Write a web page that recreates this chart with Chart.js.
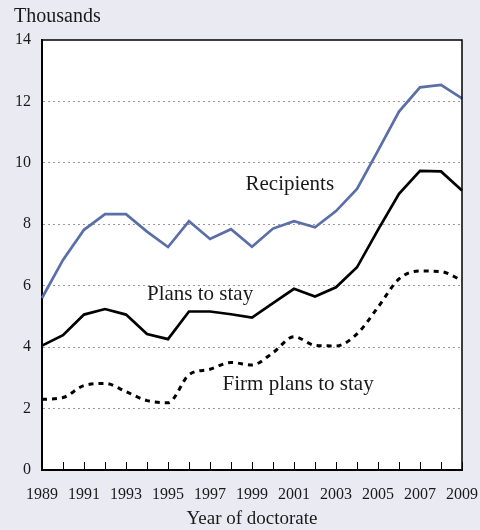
<!DOCTYPE html>
<html>
<head>
<meta charset="utf-8">
<script src="https://cdn.jsdelivr.net/npm/chart.js@4.4.0/dist/chart.umd.min.js"></script>
<style>
  html, body { margin: 0; padding: 0; background: #eaeaf3; }
  #wrap { width: 480px; height: 530px; }
</style>
</head>
<body>
<div id="wrap"><canvas id="myChart" width="480" height="530"></canvas></div>
<script>
const years = ["1989","1990","1991","1992","1993","1994","1995","1996","1997","1998","1999",
  "2000","2001","2002","2003","2004","2005","2006","2007","2008","2009"];
const recipients = [5.6, 6.84, 7.82, 8.33, 8.33, 7.76, 7.26, 8.1, 7.52, 7.84, 7.27,
  7.86, 8.1, 7.9, 8.43, 9.15, 10.4, 11.67, 12.46, 12.54, 12.1];
const plansToStay = [4.05, 4.39, 5.06, 5.24, 5.06, 4.43, 4.26, 5.16, 5.16, 5.07, 4.96,
  5.43, 5.9, 5.65, 5.95, 6.6, 7.82, 8.99, 9.74, 9.72, 9.1];
const firmPlans = [2.3, 2.36, 2.75, 2.82, 2.55, 2.26, 2.19, 3.1, 3.28, 3.5, 3.42,
  3.82, 4.34, 4.06, 4.04, 4.43, 5.3, 6.22, 6.48, 6.46, 6.17];
const yTicks = [0, 2, 4, 6, 8, 10, 12, 14];

// text labels placed at data coordinates
const notes = [
  { text: "Recipients", x: 2000.8, y: 9.28, align: "center" },
  { text: "Plans to stay", x: 1994.0, y: 5.7, align: "left" },
  { text: "Firm plans to stay", x: 1997.6, y: 2.8, align: "left" },
];

const serif = "'Liberation Serif', 'DejaVu Serif', serif";
Chart.defaults.font.family = serif;
Chart.defaults.color = "#1a1a1a";

const decor = {
  id: "decor",
  beforeDraw(chart) {
    const { ctx, chartArea: a } = chart;
    ctx.save();
    ctx.fillStyle = "#eaeaf3";
    ctx.fillRect(0, 0, chart.width, chart.height);
    ctx.fillStyle = "#ffffff";
    ctx.fillRect(a.left, a.top, a.right - a.left, a.bottom - a.top);
    ctx.restore();
  },
  afterDraw(chart) {
    const { ctx, chartArea: a, scales } = chart;
    ctx.save();
    // top and right frame
    ctx.strokeStyle = "#000";
    ctx.lineWidth = 1.5;
    ctx.beginPath();
    ctx.moveTo(a.left, a.top);
    ctx.lineTo(a.right, a.top);
    ctx.lineTo(a.right, a.bottom);
    ctx.stroke();
    // inward tick marks on x axis
    ctx.lineWidth = 1;
    years.forEach((y, i) => {
      const px = Math.round(scales.x.getPixelForValue(i)) + 0.5;
      ctx.beginPath();
      ctx.moveTo(px, a.bottom);
      ctx.lineTo(px, a.bottom - 8);
      ctx.stroke();
    });
    // "Thousands"
    ctx.fillStyle = "#1a1a1a";
    ctx.font = "20px " + serif;
    ctx.textBaseline = "middle";
    ctx.textAlign = "left";
    ctx.fillText("Thousands", 14, 17);
    // series labels
    ctx.font = "21px " + serif;
    notes.forEach(n => {
      const px = scales.x.getPixelForValue(n.x - 1989);
      const py = scales.y.getPixelForValue(n.y);
      ctx.textAlign = n.align;
      ctx.fillText(n.text, px, py);
    });
    ctx.restore();
  }
};

new Chart(document.getElementById("myChart"), {
  type: "line",
  data: {
    labels: years,
    datasets: [
      {
        label: "Recipients",
        data: recipients,
        borderColor: "#5a6ea8",
        borderWidth: 2.7,
        pointRadius: 0,
        tension: 0,
      },
      {
        label: "Plans to stay",
        data: plansToStay,
        borderColor: "#000000",
        borderWidth: 2.7,
        pointRadius: 0,
        tension: 0,
      },
      {
        label: "Firm plans to stay",
        data: firmPlans,
        borderColor: "#000000",
        borderWidth: 3,
        borderDash: [5, 5],
        pointRadius: 0,
        cubicInterpolationMode: "monotone",
      },
    ],
  },
  options: {
    responsive: false,
    animation: false,
    layout: { padding: { top: 40, right: 18, left: 0, bottom: 0 } },
    plugins: {
      legend: { display: false },
      tooltip: { enabled: false },
    },
    scales: {
      x: {
        offset: false,
        grid: { display: false, drawTicks: false },
        border: { color: "#000", width: 2 },
        ticks: {
          autoSkip: false,
          maxRotation: 0,
          padding: 15,
          font: { size: 16 },
          color: "#1a1a1a",
          callback: function (v, i) { return i % 2 === 0 ? years[i] : ""; },
        },
        title: {
          display: true,
          text: "Year of doctorate",
          font: { size: 19 },
          color: "#1a1a1a",
          padding: { top: 7, bottom: 0 },
        },
        afterFit(s) { s.height = 60; s.paddingLeft = 0; s.paddingRight = 0; },
      },
      y: {
        min: 0,
        max: 14,
        afterBuildTicks(s) { s.ticks = yTicks.map(v => ({ value: v })); },
        grid: {
          drawTicks: false,
          color: ctx => (ctx.tick && (ctx.tick.value === 0 || ctx.tick.value === 14)) ? "rgba(0,0,0,0)" : "#9a9a9a",
          lineWidth: 1,
        },
        border: { color: "#000", width: 2, dash: [2, 3], dashOffset: 0 },
        ticks: { padding: 11, font: { size: 16 }, color: "#1a1a1a" },
        afterFit(s) { s.width = 42; s.paddingTop = 0; s.paddingBottom = 0; },
      },
    },
  },
  plugins: [decor],
});
</script>
</body>
</html>
